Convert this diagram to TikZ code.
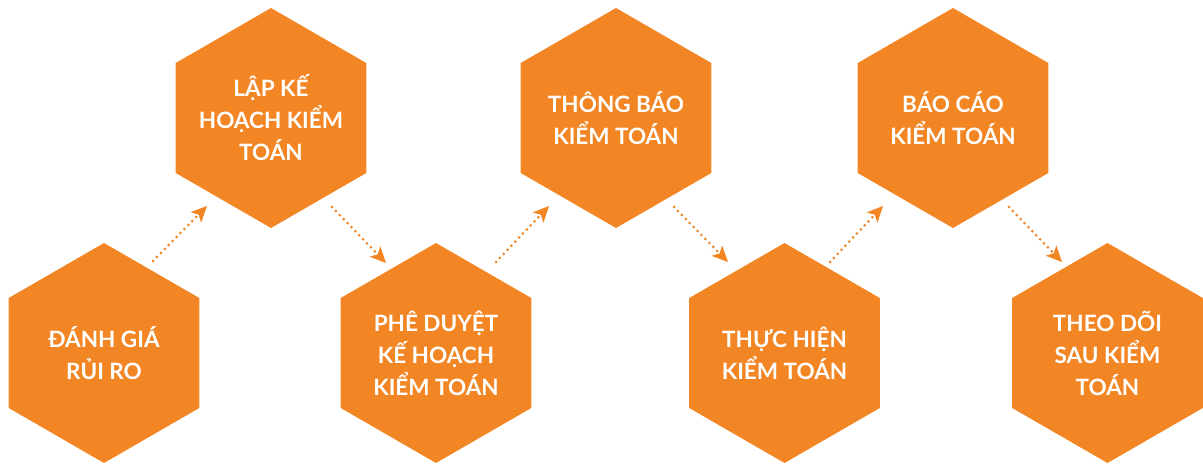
\documentclass[tikz,border=0pt]{standalone}
\usepackage{fontspec}
\setmainfont{Lato}
\usetikzlibrary{shapes.geometric,arrows.meta}
\definecolor{hexorange}{HTML}{F38624}
\tikzset{
  hexbox/.style={regular polygon, regular polygon sides=6, shape border rotate=30,
    minimum size=220pt, inner sep=-25pt, outer sep=0pt, fill=hexorange, draw=none,
    text=white, align=center, font=\bfseries\fontsize{22.5}{32}\selectfont},
  dotarrow/.style={draw=hexorange, line width=3pt, line cap=round,
    dash pattern=on 0pt off 5.6pt,
    -{Stealth[length=16pt,width=15pt,inset=4pt,fill=hexorange,line width=0pt,line cap=butt]}}
}
\begin{document}
\begin{tikzpicture}[x=1pt,y=-1pt]
\useasboundingbox (0,0) rectangle (1203,465);
\node[hexbox] (h1) at (104,353) {ĐÁNH GIÁ\\RỦI RO};
\node[hexbox] (h2) at (271,118) {LẬP KẾ\\HOẠCH KIỂM\\TOÁN};
\node[hexbox] (h3) at (436,353) {PHÊ DUYỆT\\KẾ HOẠCH\\KIỂM TOÁN};
\node[hexbox] (h4) at (616,118) {THÔNG BÁO\\KIỂM TOÁN};
\node[hexbox] (h5) at (784.5,353) {THỰC HIỆN\\KIỂM TOÁN};
\node[hexbox] (h6) at (953,118) {BÁO CÁO\\KIỂM TOÁN};
\node[hexbox] (h7) at (1107.5,353) {THEO DÕI\\SAU KIỂM\\TOÁN};
\coordinate (a1s) at (153,261); \coordinate (a1e) at (207,206);
\coordinate (a2s) at (332,207); \coordinate (a2e) at (386,263);
\coordinate (a3s) at (496,262); \coordinate (a3e) at (549,206);
\coordinate (a4s) at (674,207); \coordinate (a4e) at (728,262);
\coordinate (a5s) at (830,262); \coordinate (a5e) at (883,206);
\coordinate (a6s) at (1009,207); \coordinate (a6e) at (1062,262);
\draw[dotarrow] (a1s) -- (a1e);
\draw[dotarrow] (a2s) -- (a2e);
\draw[dotarrow] (a3s) -- (a3e);
\draw[dotarrow] (a4s) -- (a4e);
\draw[dotarrow] (a5s) -- (a5e);
\draw[dotarrow] (a6s) -- (a6e);
\end{tikzpicture}
\end{document}
